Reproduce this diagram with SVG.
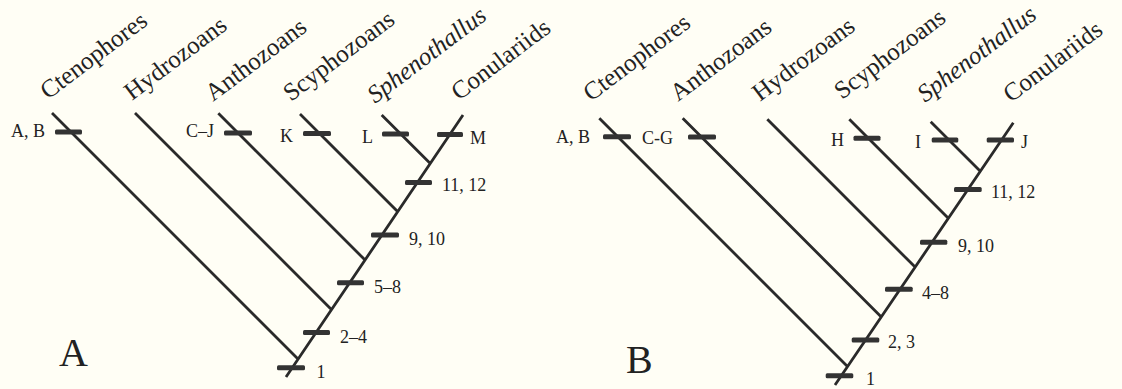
<svg xmlns="http://www.w3.org/2000/svg" width="1122" height="389" viewBox="0 0 1122 389">
<style>
.bg{fill:#fffef5}
.ln{stroke:#2a2a2a;stroke-width:2.8;fill:none;stroke-linecap:butt}
.bar{fill:#333}
.tx{font-family:"Liberation Serif",serif;fill:#222}
.tax{font-size:25px}
.it{font-style:italic}
.sm{font-size:18px}
.big{font-size:40px}
</style>
<rect class="bg" x="0" y="0" width="1122" height="389"/>
<g id="connectors">
<path class="ln" d="M286,377 L463,115 M52,113 L298.5,359.5 M135,113 L331.9,309.9 M218.3,113.3 L365.3,260.3 M300,114 L397.8,211.8 M381.7,115 L430.3,163.6"/>
<path class="ln" d="M835,385 L1013.3,122.7 M599.3,118.3 L847.5,366.5 M682.7,118.3 L881.3,316.9 M767.3,119.3 L915.1,267.1 M849.3,119.3 L948.3,218.3 M930.7,121.7 L980.3,171.3"/>
</g>
<g id="bars">
<rect class="bar" x="55" y="129.5" width="27" height="5" rx="1.5"/>
<rect class="bar" x="224" y="130.5" width="28" height="5" rx="1.5"/>
<rect class="bar" x="303" y="131" width="28" height="5" rx="1.5"/>
<rect class="bar" x="382" y="131.5" width="27" height="5" rx="1.5"/>
<rect class="bar" x="437" y="132" width="26" height="5" rx="1.5"/>
<rect class="bar" x="405" y="180" width="27" height="5" rx="1.5"/>
<rect class="bar" x="371" y="232.5" width="28" height="5" rx="1.5"/>
<rect class="bar" x="337" y="280.2" width="27" height="5" rx="1.5"/>
<rect class="bar" x="303" y="330" width="27" height="5" rx="1.5"/>
<rect class="bar" x="277" y="365.2" width="28" height="5" rx="1.5"/>
<rect class="bar" x="603" y="134.2" width="28" height="5" rx="1.5"/>
<rect class="bar" x="688" y="134.5" width="28" height="5" rx="1.5"/>
<rect class="bar" x="853.5" y="135.8" width="27" height="5" rx="1.5"/>
<rect class="bar" x="931.7" y="137.5" width="26.6" height="5" rx="1.5"/>
<rect class="bar" x="986.7" y="137.5" width="27.3" height="5" rx="1.5"/>
<rect class="bar" x="954" y="187" width="27.7" height="5" rx="1.5"/>
<rect class="bar" x="920" y="239.8" width="27.3" height="5" rx="1.5"/>
<rect class="bar" x="885" y="286.8" width="27.7" height="5" rx="1.5"/>
<rect class="bar" x="851.7" y="337.5" width="27.6" height="5" rx="1.5"/>
<rect class="bar" x="825.7" y="373.2" width="27.6" height="5" rx="1.5"/>
</g>
<g id="tree-A">
<g id="A-ctenophores"><text class="tx tax" transform="translate(48,100) rotate(-37)">Ctenophores</text></g>
<g id="A-hydrozoans"><text class="tx tax" transform="translate(132,101) rotate(-37)">Hydrozoans</text></g>
<g id="A-anthozoans"><text class="tx tax" transform="translate(213,102) rotate(-37)">Anthozoans</text></g>
<g id="A-scyphozoans"><text class="tx tax" transform="translate(291,102) rotate(-37)">Scyphozoans</text></g>
<g id="A-sphenothallus"><text class="tx tax it" transform="translate(375,104) rotate(-37)">Sphenothallus</text></g>
<g id="A-conulariids"><text class="tx tax" transform="translate(459,101) rotate(-37)">Conulariids</text></g>
<g id="A-chars">
<text class="tx sm" x="11" y="137">A, B</text>
<text class="tx sm" x="186" y="137">C–J</text>
<text class="tx sm" x="280" y="141.5">K</text>
<text class="tx sm" x="362" y="143">L</text>
<text class="tx sm" x="470" y="144">M</text>
<text class="tx sm" x="442" y="191">11, 12</text>
<text class="tx sm" x="409" y="245">9, 10</text>
<text class="tx sm" x="374" y="292.7">5–8</text>
<text class="tx sm" x="340" y="342.7">2–4</text>
<text class="tx sm" x="316.5" y="378">1</text>
</g>
<g id="A-label"><text class="tx big" x="59" y="366">A</text></g>
</g>
<g id="tree-B">
<g id="B-ctenophores"><text class="tx tax" transform="translate(591,102) rotate(-37)">Ctenophores</text></g>
<g id="B-anthozoans"><text class="tx tax" transform="translate(678,102) rotate(-37)">Anthozoans</text></g>
<g id="B-hydrozoans"><text class="tx tax" transform="translate(760,102) rotate(-37)">Hydrozoans</text></g>
<g id="B-scyphozoans"><text class="tx tax" transform="translate(842,100) rotate(-37)">Scyphozoans</text></g>
<g id="B-sphenothallus"><text class="tx tax it" transform="translate(925,103) rotate(-37)">Sphenothallus</text></g>
<g id="B-conulariids"><text class="tx tax" transform="translate(1011,103) rotate(-37)">Conulariids</text></g>
<g id="B-chars">
<text class="tx sm" x="556" y="143">A, B</text>
<text class="tx sm" x="642" y="144">C-G</text>
<text class="tx sm" x="831" y="146">H</text>
<text class="tx sm" x="915" y="148">I</text>
<text class="tx sm" x="1021" y="148">J</text>
<text class="tx sm" x="991" y="198">11, 12</text>
<text class="tx sm" x="958" y="251.5">9, 10</text>
<text class="tx sm" x="922" y="299">4–8</text>
<text class="tx sm" x="888" y="348">2, 3</text>
<text class="tx sm" x="866" y="385">1</text>
</g>
<g id="B-label"><text class="tx big" x="626" y="373">B</text></g>
</g>
</svg>
